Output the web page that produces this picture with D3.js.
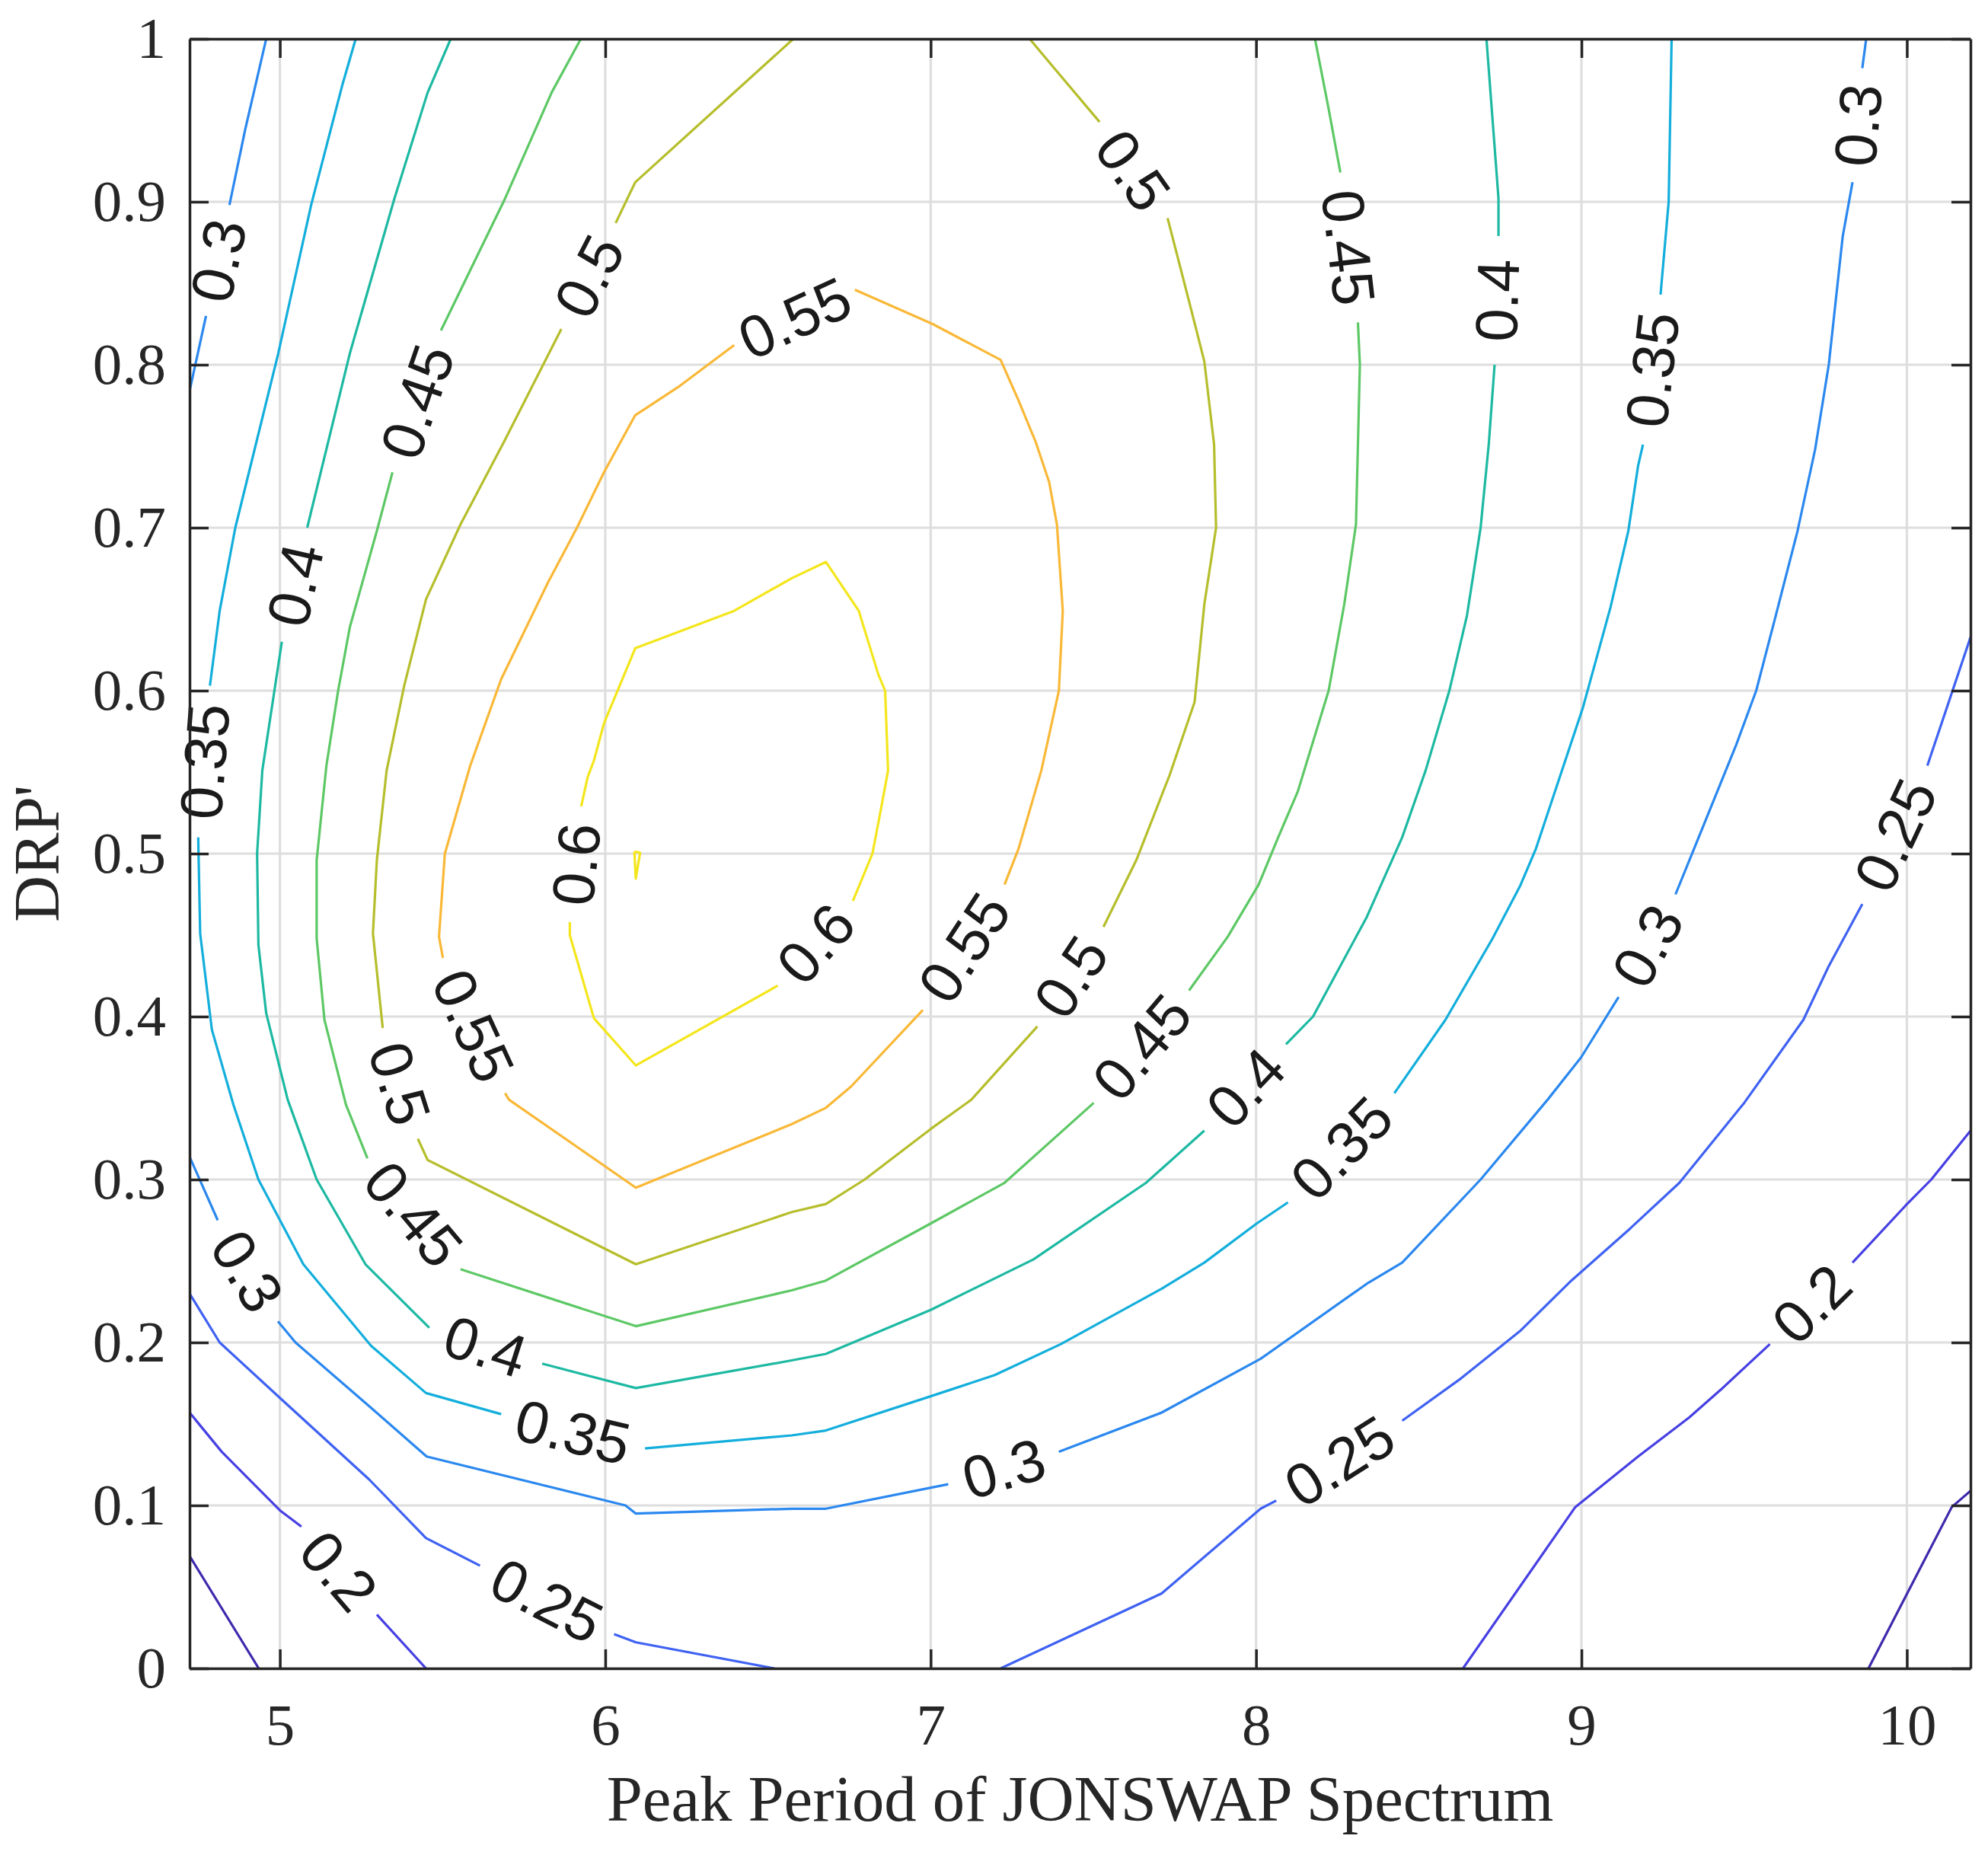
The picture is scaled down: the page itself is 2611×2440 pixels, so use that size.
<!DOCTYPE html>
<html>
<head>
<meta charset="utf-8">
<script src="https://cdn.jsdelivr.net/npm/d3@7"></script>
<style>
  body { margin: 0; background: #fff; }
</style>
</head>
<body>
<div id="chart"></div>
<script>

/*******************
 * DATA
 *******************/

var tpRange = [4.7225, 10.1955];
var drpRange = [0, 1];
var tpTicks = [5, 6, 7, 8, 9, 10];
var drpTicks = [0, 0.1, 0.2, 0.3, 0.4, 0.5, 0.6, 0.7, 0.8, 0.9, 1];

var levels = [0.15, 0.2, 0.25, 0.3, 0.35, 0.4, 0.45, 0.5, 0.55, 0.6];
var levelColors = ['#3e2aad', '#4740e3', '#3f62f2', '#2b88ef', '#13aedc',
  '#1db9a2', '#5dc865', '#b6be2c', '#f9b837', '#f4e61c'];

// each contour = list of lines, each line = list of pieces cut by a label gap
var c015 = [
  [[[4.7225, 0.069], [4.935, 0]]],
  [[[9.882, 0], [10.138, 0.099], [10.196, 0.109]]]
];

var c020 = [
  [[[4.7225, 0.157], [4.821, 0.133], [5.0, 0.097], [5.066, 0.087]],
   [[5.298, 0.033], [5.449, 0]]],
  [[[8.636, 0], [8.981, 0.099], [9.174, 0.13], [9.331, 0.154], [9.428, 0.171], [9.579, 0.199]],
   [[9.833, 0.249], [9.996, 0.284], [10.075, 0.3], [10.196, 0.33]]]
];

var c025 = [
  [[[4.7225, 0.23], [4.815, 0.2], [5.0, 0.166], [5.274, 0.116], [5.449, 0.08], [5.615, 0.063]],
   [[6.027, 0.021], [6.094, 0.016], [6.52, 0]]],
  [[[7.215, 0], [7.71, 0.046], [8.014, 0.098], [8.062, 0.103]],
   [[8.449, 0.152], [8.63, 0.178], [8.811, 0.207], [8.969, 0.238], [9.15, 0.27], [9.301, 0.298],
    [9.5, 0.347], [9.682, 0.398], [9.76, 0.431], [9.863, 0.469]],
   [[10.063, 0.554], [10.196, 0.633]]]
];

var c030 = [
  [[[4.958, 1.0], [4.893, 0.944], [4.845, 0.898]],
   [[4.773, 0.83], [4.7225, 0.784]]],
  [[[4.7225, 0.314], [4.809, 0.275]],
   [[4.994, 0.213], [5.048, 0.2], [5.274, 0.161], [5.451, 0.13], [6.062, 0.1], [6.094, 0.095],
    [6.573, 0.098], [6.678, 0.098], [7.054, 0.113]],
   [[7.394, 0.133], [7.71, 0.157], [8.014, 0.19], [8.34, 0.236], [8.449, 0.249], [8.69, 0.3],
    [8.896, 0.349], [8.999, 0.375], [9.114, 0.412]],
   [[9.289, 0.475], [9.346, 0.503], [9.476, 0.567], [9.537, 0.6], [9.597, 0.646], [9.664, 0.698],
    [9.718, 0.748], [9.76, 0.8], [9.803, 0.879], [9.833, 0.912]],
   [[9.863, 0.982], [9.875, 1.0]]]
];

var c035 = [
  [[[5.233, 1.0], [5.191, 0.971], [5.096, 0.898], [4.995, 0.807], [4.863, 0.7], [4.815, 0.649],
    [4.785, 0.603]],
   [[4.749, 0.51], [4.755, 0.451], [4.791, 0.392], [4.857, 0.346], [4.934, 0.3], [5.072, 0.248],
    [5.28, 0.198], [5.449, 0.169], [5.68, 0.156]],
   [[6.122, 0.135], [6.573, 0.143], [6.678, 0.146], [7.0, 0.167], [7.197, 0.18], [7.4, 0.199],
    [7.71, 0.233], [7.841, 0.249], [8.002, 0.273], [8.098, 0.286]],
   [[8.425, 0.353], [8.582, 0.398], [8.727, 0.448], [8.811, 0.48], [8.86, 0.503], [9.005, 0.59],
    [9.089, 0.651], [9.144, 0.698], [9.174, 0.738], [9.189, 0.751]],
   [[9.243, 0.843], [9.268, 0.9], [9.277, 1.0]]]
];

var c040 = [
  [[[5.525, 1.0], [5.454, 0.967], [5.352, 0.902], [5.215, 0.807], [5.084, 0.7]],
   [[5.006, 0.63], [4.946, 0.551], [4.93, 0.5], [4.934, 0.444], [4.958, 0.402], [5.024, 0.349],
    [5.113, 0.3], [5.263, 0.248], [5.459, 0.209]],
   [[5.806, 0.187], [6.094, 0.172], [6.573, 0.189], [6.678, 0.193], [7.0, 0.22], [7.316, 0.251],
    [7.662, 0.298], [7.841, 0.33]],
   [[8.092, 0.383], [8.175, 0.4], [8.34, 0.461], [8.449, 0.51], [8.521, 0.551], [8.594, 0.6],
    [8.648, 0.646], [8.69, 0.7], [8.715, 0.751], [8.733, 0.8]],
   [[8.745, 0.879], [8.745, 0.902], [8.708, 1.0]]]
];

var c045 = [
  [[[5.925, 1.0], [5.835, 0.967], [5.692, 0.902], [5.495, 0.821]],
   [[5.346, 0.734], [5.298, 0.698], [5.215, 0.639], [5.179, 0.6], [5.143, 0.554], [5.113, 0.496],
    [5.113, 0.448], [5.137, 0.398], [5.203, 0.346], [5.269, 0.313]],
   [[5.555, 0.245], [6.094, 0.21], [6.573, 0.232], [6.678, 0.238], [7.0, 0.273], [7.227, 0.298],
    [7.501, 0.347]],
   [[7.794, 0.416], [7.913, 0.449], [8.008, 0.481], [8.068, 0.51], [8.128, 0.538], [8.223, 0.6],
    [8.271, 0.653], [8.307, 0.702], [8.319, 0.8], [8.313, 0.826]],
   [[8.259, 0.918], [8.223, 0.957], [8.181, 1.0]]]
];

var c050 = [
  [[[6.578, 1.0], [6.092, 0.912], [6.032, 0.887]],
   [[5.865, 0.822], [5.692, 0.754], [5.555, 0.702], [5.449, 0.656], [5.382, 0.603], [5.328, 0.551],
    [5.298, 0.496], [5.286, 0.451], [5.316, 0.393]],
   [[5.424, 0.325], [5.454, 0.312], [6.094, 0.248], [6.573, 0.28], [6.678, 0.285], [6.797, 0.3],
    [7.0, 0.331], [7.125, 0.349], [7.328, 0.394]],
   [[7.531, 0.455], [7.632, 0.496], [7.734, 0.548], [7.811, 0.593], [7.841, 0.653], [7.877, 0.7],
    [7.871, 0.751], [7.841, 0.802], [7.794, 0.839], [7.728, 0.89]],
   [[7.519, 0.949], [7.388, 0.98], [7.304, 1.0]]]
];

var c055 = [
  [[[6.767, 0.846], [7.006, 0.825], [7.215, 0.803], [7.268, 0.779], [7.322, 0.753], [7.364, 0.728],
    [7.388, 0.702], [7.406, 0.649], [7.394, 0.6], [7.34, 0.551], [7.27, 0.503], [7.227, 0.481]],
   [[6.976, 0.404], [6.755, 0.357], [6.678, 0.344], [6.573, 0.334], [6.094, 0.295], [5.704, 0.349],
    [5.692, 0.353]],
   [[5.501, 0.436], [5.489, 0.449], [5.507, 0.5], [5.585, 0.554], [5.68, 0.607], [5.823, 0.666],
    [5.913, 0.7], [5.996, 0.734], [6.092, 0.769], [6.229, 0.787], [6.396, 0.812]]]
];

var c060 = [
  [[[5.891, 0.458], [5.891, 0.45], [5.965, 0.399], [6.094, 0.37], [6.53, 0.419]],
   [[6.761, 0.471], [6.821, 0.5], [6.845, 0.525], [6.869, 0.551], [6.86, 0.6], [6.839, 0.61],
    [6.779, 0.649], [6.678, 0.679], [6.573, 0.669], [6.396, 0.649], [6.092, 0.626], [5.996, 0.58],
    [5.965, 0.557], [5.946, 0.547], [5.926, 0.529]]],
  [[[6.0896, 0.5013], [6.107, 0.5005], [6.0936, 0.4846], [6.0896, 0.5013]]]
];

// lines that close on themselves through their last label
var loops = [c055[0], c060[0]];

var contourSets = [c015, c020, c025, c030, c035, c040, c045, c050, c055, c060];

/*******************
 * LAYOUT
 *******************/

var W = 2611, H = 2440;
var plot = {left: 249, top: 51, right: 2588, bottom: 2191};

var x = d3.scaleLinear().domain(tpRange).range([plot.left, plot.right]);
var y = d3.scaleLinear().domain(drpRange).range([plot.bottom, plot.top]);

var axisColor = '#262626';
var serif = '"Liberation Serif", "Times New Roman", Times, serif';
var sans = '"Liberation Sans", Arial, Helvetica, sans-serif';

var svg = d3.select('#chart').append('svg')
  .attr('width', W)
  .attr('height', H);

svg.append('rect').attr('width', W).attr('height', H).attr('fill', '#fff');

svg.append('defs').append('clipPath')
  .attr('id', 'plot-clip')
  .append('rect')
  .attr('x', plot.left).attr('y', plot.top)
  .attr('width', plot.right - plot.left)
  .attr('height', plot.bottom - plot.top);

/*******************
 * GRID
 *******************/

var grid = svg.append('g').attr('stroke', '#dedede').attr('stroke-width', 3.2);

grid.selectAll('.gx').data(tpTicks).enter().append('line')
  .attr('x1', function (d) { return x(d); })
  .attr('x2', function (d) { return x(d); })
  .attr('y1', plot.top).attr('y2', plot.bottom);

grid.selectAll('.gy').data(drpTicks).enter().append('line')
  .attr('y1', function (d) { return y(d); })
  .attr('y2', function (d) { return y(d); })
  .attr('x1', plot.left).attr('x2', plot.right);

/*******************
 * CONTOURS
 *******************/

var line = d3.line()
  .x(function (d) { return x(d[0]); })
  .y(function (d) { return y(d[1]); });

var lineLayer = svg.append('g').attr('clip-path', 'url(#plot-clip)');
var labelLayer = svg.append('g');

contourSets.forEach(function (set, i) {
  var color = levelColors[i];
  var text = String(levels[i]);

  set.forEach(function (contour) {
    contour.forEach(function (piece) {
      lineLayer.append('path')
        .attr('d', line(piece))
        .attr('fill', 'none')
        .attr('stroke', color)
        .attr('stroke-width', 3.2)
        .attr('stroke-linejoin', 'round');
    });

    // a label sits in every gap between two pieces
    var n = contour.length;
    var gaps = loops.indexOf(contour) >= 0 ? n : n - 1;
    for (var k = 0; k < gaps; k++) {
      var a = contour[k][contour[k].length - 1];
      var b = contour[(k + 1) % n][0];
      var ax = x(a[0]), ay = y(a[1]), bx = x(b[0]), by = y(b[1]);
      var ang = Math.atan2(by - ay, bx - ax) * 180 / Math.PI;
      if (ang > 90) ang -= 180;
      if (ang <= -90) ang += 180;
      var cx = (ax + bx) / 2, cy = (ay + by) / 2;

      labelLayer.append('text')
        .attr('transform', 'translate(' + cx + ',' + cy + ') rotate(' + ang + ')')
        .attr('text-anchor', 'middle')
        .attr('dy', '0.36em')
        .attr('font-family', sans)
        .attr('font-size', 78)
        .attr('fill', '#1a1a1a')
        .text(text);
    }
  });
});

/*******************
 * AXES
 *******************/

function styleAxis(g) {
  g.attr('font-family', serif).attr('font-size', 77);
  g.select('.domain').attr('stroke', axisColor).attr('stroke-width', 3.5);
  g.selectAll('.tick line').attr('stroke', axisColor).attr('stroke-width', 3.5);
  g.selectAll('.tick text').attr('fill', axisColor);
}

svg.append('g')
  .attr('transform', 'translate(0,' + plot.bottom + ')')
  .call(d3.axisBottom(x).tickValues(tpTicks).tickSizeInner(-25).tickSizeOuter(0)
    .tickPadding(45).tickFormat(d3.format('d')))
  .call(styleAxis);

svg.append('g')
  .attr('transform', 'translate(0,' + plot.top + ')')
  .call(d3.axisTop(x).tickValues(tpTicks).tickSizeInner(-25).tickSizeOuter(0).tickFormat(''))
  .call(styleAxis);

svg.append('g')
  .attr('transform', 'translate(' + plot.left + ',0)')
  .call(d3.axisLeft(y).tickValues(drpTicks).tickSizeInner(-25).tickSizeOuter(0)
    .tickPadding(31).tickFormat(d3.format('~g')))
  .call(styleAxis);

svg.append('g')
  .attr('transform', 'translate(' + plot.right + ',0)')
  .call(d3.axisRight(y).tickValues(drpTicks).tickSizeInner(-25).tickSizeOuter(0).tickFormat(''))
  .call(styleAxis);

svg.append('text')
  .attr('x', (plot.left + plot.right) / 2)
  .attr('y', 2391)
  .attr('text-anchor', 'middle')
  .attr('font-family', serif)
  .attr('font-size', 84.7)
  .attr('fill', axisColor)
  .text('Peak Period of JONSWAP Spectrum');

svg.append('text')
  .attr('transform', 'translate(77,' + (plot.top + plot.bottom) / 2 + ') rotate(-90)')
  .attr('text-anchor', 'middle')
  .attr('font-family', serif)
  .attr('font-size', 84.7)
  .attr('fill', axisColor)
  .text("DRP'");

</script>
</body>
</html>
